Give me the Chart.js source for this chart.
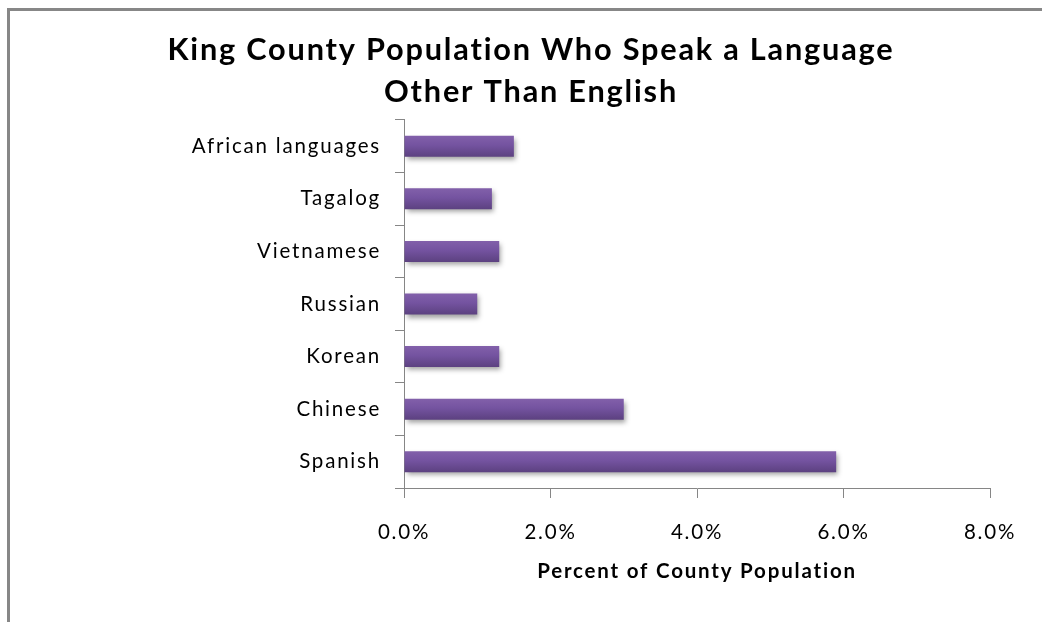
<!DOCTYPE html>
<html>
<head>
<meta charset="utf-8">
<script src="https://cdn.jsdelivr.net/npm/chart.js@4/dist/chart.umd.min.js"></script>
<style>
  html, body { margin: 0; padding: 0; background: #fff; overflow: hidden; }
  #wrap { position: relative; width: 1042px; height: 622px; }
  #frame {
    position: absolute; left: 7px; top: 8px; width: 2000px; height: 2000px;
    border-left: 3px solid #878787; border-top: 3px solid #878787;
    pointer-events: none;
  }
  canvas { position: absolute; left: 0; top: 0; }
</style>
</head>
<body>
<div id="wrap">
  <canvas id="chart" width="1042" height="622"></canvas>
  <div id="frame"></div>
</div>
<script>
// Languages other than English spoken in King County (share of county population, %)
const languages = ['African languages', 'Tagalog', 'Vietnamese', 'Russian', 'Korean', 'Chinese', 'Spanish'];
const percentOfPopulation = [1.5, 1.2, 1.3, 1.0, 1.3, 3.0, 5.9];
const xTicks = [0, 2, 4, 6, 8];
const titleLines = ['King County Population Who Speak a Language', 'Other Than English'];
const xAxisTitle = 'Percent of County Population';

const FONT = 'Lato, "Open Sans", sans-serif';
const AXIS_GREY = '#868686';
const BAR_FLAT = '#7154a0';
const LETTER_SPACING = '1.8px';

// Vertical purple gradient for each bar, computed from the category scale
function barGradient(context) {
  const chart = context.chart;
  const yScale = chart.scales && chart.scales.y;
  if (!yScale || context.dataIndex === undefined) return BAR_FLAT;
  const band = (yScale.bottom - yScale.top) / languages.length;
  const center = yScale.getPixelForValue(context.dataIndex);
  const half = band * 0.4 / 2;
  if (!isFinite(center) || !isFinite(half) || half <= 0) return BAR_FLAT;
  const g = chart.ctx.createLinearGradient(0, center - half, 0, center + half);
  g.addColorStop(0, '#8260aa');
  g.addColorStop(0.45, '#7453a0');
  g.addColorStop(1, '#5c4180');
  return g;
}

// Soft drop shadow under the bars
const barShadow = {
  id: 'barShadow',
  beforeDatasetDraw(chart) {
    const ctx = chart.ctx;
    ctx.save();
    ctx.shadowColor = 'rgba(0,0,0,0.38)';
    ctx.shadowBlur = 5;
    ctx.shadowOffsetX = 2;
    ctx.shadowOffsetY = 3;
  },
  afterDatasetDraw(chart) {
    chart.ctx.restore();
  }
};

// Slightly open letter spacing for all chart text
const textSpacing = {
  id: 'textSpacing',
  beforeDraw(chart) {
    chart.ctx.letterSpacing = LETTER_SPACING;
  }
};

new Chart(document.getElementById('chart'), {
  type: 'bar',
  data: {
    labels: languages,
    datasets: [{
      data: percentOfPopulation,
      backgroundColor: barGradient,
      borderWidth: 0,
      barPercentage: 0.4,
      categoryPercentage: 1.0
    }]
  },
  options: {
    indexAxis: 'y',
    responsive: false,
    animation: false,
    events: [],
    layout: { padding: { left: 72, right: 52, top: 0, bottom: 0 } },
    plugins: {
      legend: { display: false },
      tooltip: { enabled: false },
      title: {
        display: true,
        text: titleLines,
        color: '#000',
        font: { family: FONT, size: 30.7, weight: 'bold', lineHeight: 1.368 },
        padding: { top: 29, bottom: 7 }
      }
    },
    scales: {
      x: {
        min: 0,
        max: 8,
        afterBuildTicks(scale) { scale.ticks = xTicks.map(v => ({ value: v })); },
        afterFit(scale) { scale.height = 134; },
        border: { display: true, color: AXIS_GREY, width: 1 },
        grid: { drawOnChartArea: false, drawTicks: true, tickLength: 10, color: AXIS_GREY },
        ticks: {
          padding: 22,
          color: '#000',
          font: { family: FONT, size: 20.5 },
          callback: v => Number(v).toFixed(1) + '%'
        },
        title: {
          display: true,
          text: xAxisTitle,
          color: '#000',
          font: { family: FONT, size: 20.5, weight: 'bold' },
          padding: { top: 0, bottom: 38 }
        }
      },
      y: {
        afterFit(scale) { scale.width = 332; },
        border: { display: true, color: AXIS_GREY, width: 1 },
        grid: { drawOnChartArea: false, drawTicks: true, tickLength: 9, color: AXIS_GREY, offset: true },
        ticks: {
          padding: 14,
          color: '#000',
          font: { family: FONT, size: 20.5 }
        }
      }
    }
  },
  plugins: [barShadow, textSpacing]
});
</script>
</body>
</html>
